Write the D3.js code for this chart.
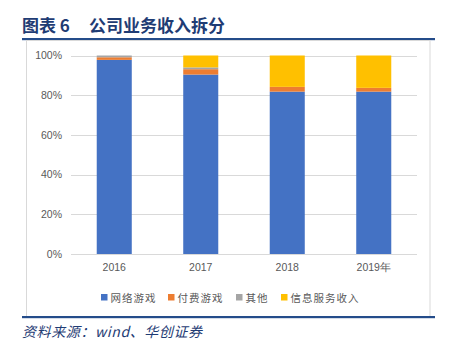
<!DOCTYPE html>
<html><head><meta charset="utf-8">
<script src="https://cdn.jsdelivr.net/npm/d3@7"></script>
<style>body{margin:0;background:#fff;} svg{display:block;} .pre{white-space:pre;}</style>
</head><body>
<svg id="c" width="451" height="345"></svg>
<script>
const years = ["2016", "2017", "2018", "2019年"];
const seriesNames = ["网络游戏", "付费游戏", "其他", "信息服务收入"];
const onlineGames = [97.8, 90.4, 81.8, 81.8];
const paidGames = [1.3, 2.7, 2.4, 1.9];
const others = [0.9, 0.9, 0, 0];
const infoService = [0, 6.0, 15.8, 16.3];
const yTicks = [0, 20, 40, 60, 80, 100];
const colors = ["#4472C4", "#ED7D31", "#A5A5A5", "#FFC000"];

const svg = d3.select("#c");
const dataRows = years.map((y, i) => ({year: y, "网络游戏": onlineGames[i], "付费游戏": paidGames[i], "其他": others[i], "信息服务收入": infoService[i]}));
const stack = d3.stack().keys(seriesNames)(dataRows);

const x = d3.scaleBand().domain(years).range([71, 417]).paddingInner(0.595).paddingOuter(0.2975);
const y = d3.scaleLinear().domain([0, 100]).range([254, 55.5]);

// header
const t = svg.append("text").attr("class", "pre").attr("y", 32).attr("font-family", "Noto Sans CJK SC").attr("font-weight", "bold")
  .attr("font-size", 17).attr("fill", "#1F3C74");
t.append("tspan").attr("x", 22).text("图表 6");
t.append("tspan").attr("x", 89).text("公司业务收入拆分");
svg.append("rect").attr("x", 22).attr("y", 38).attr("width", 413).attr("height", 2.2).attr("fill", "#244C8A");
// frame
svg.append("rect").attr("x", 26.5).attr("y", 40.5).attr("width", 403.5).attr("height", 276).attr("fill", "none").attr("stroke", "#D9D9D9");
svg.append("rect").attr("x", 22).attr("y", 316).attr("width", 413).attr("height", 2.2).attr("fill", "#244C8A");

// grid
svg.append("g").selectAll("line").data(yTicks).join("line")
  .attr("x1", 71).attr("x2", 417).attr("y1", d => Math.round(y(d)) + 0.5).attr("y2", d => Math.round(y(d)) + 0.5)
  .attr("stroke", "#D9D9D9").attr("stroke-width", 1);

// y axis labels
const yAxis = d3.axisLeft(y).tickValues(yTicks).tickFormat(d => d + "%").tickSize(0).tickPadding(0);
const ya = svg.append("g").attr("transform", "translate(62,0)").call(yAxis);
ya.select(".domain").remove();
ya.selectAll("text").attr("font-family", "Liberation Sans, Arial").attr("font-size", 10.5).attr("fill", "#595959");

// bars
svg.append("g").selectAll("g").data(stack).join("g").attr("fill", (d, i) => colors[i])
  .selectAll("rect").data(d => d).join("rect")
  .attr("x", d => x(d.data.year)).attr("width", x.bandwidth())
  .attr("y", d => y(d[1])).attr("height", d => Math.max(0, y(d[0]) - y(d[1])));

// x labels
const xAxis = d3.axisBottom(x).tickSize(0).tickPadding(0);
const xa = svg.append("g").attr("transform", "translate(0,264)").call(xAxis);
xa.select(".domain").remove();
xa.selectAll("text").attr("font-family", "Liberation Sans, Arial").attr("font-size", 10.5).attr("fill", "#595959")
  .attr("dy", "0.71em");

// legend
const legX = [101, 168, 236, 281];
const lg = svg.append("g").selectAll("g").data(seriesNames).join("g")
  .attr("transform", (d, i) => `translate(${legX[i]},0)`);
lg.append("rect").attr("x", 0).attr("y", 294).attr("width", 6.5).attr("height", 6.5).attr("fill", (d, i) => colors[i]);
lg.append("text").attr("x", 9.5).attr("y", 301.5).attr("font-family", "Noto Sans CJK SC").attr("font-size", 10.5)
  .attr("letter-spacing", 1).attr("fill", "#595959").text(d => d);

// source
svg.append("text").attr("x", 22).attr("y", 337).attr("font-family", "Noto Sans CJK SC").attr("font-style", "italic")
  .attr("font-size", 14).attr("letter-spacing", 0.6).attr("fill", "#1F3C74").text("资料来源：wind、华创证券");
</script>
</body></html>
